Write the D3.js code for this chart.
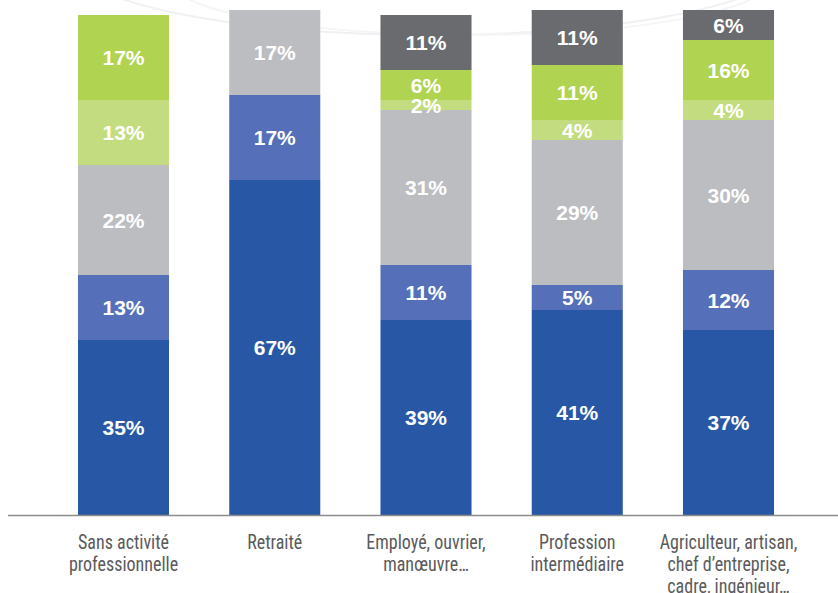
<!DOCTYPE html>
<html>
<head>
<meta charset="utf-8">
<script src="https://cdn.jsdelivr.net/npm/d3@7"></script>
<style>
  html, body { margin: 0; padding: 0; background: #ffffff; }
  svg { display: block; }
</style>
</head>
<body>
<svg id="chart" width="838" height="593"></svg>
<script>
// ---- data ----
const categories = [
  ["Sans activité", "professionnelle"],
  ["Retraité"],
  ["Employé, ouvrier,", "manœuvre…"],
  ["Profession", "intermédiaire"],
  ["Agriculteur, artisan,", "chef d’entreprise,", "cadre, ingénieur…"]
];
const seriesNames = ["s1", "s2", "s3", "s4", "s5", "s6"];
const s1 = [35, 67, 39, 41, 37];   // dark blue
const s2 = [13, 17, 11, 5, 12];    // mid blue
const s3 = [22, 17, 31, 29, 30];   // grey
const s4 = [13, 0, 2, 4, 4];       // light green
const s5 = [17, 0, 6, 11, 12];     // green (bar heights as drawn)
const s5Printed = [17, 0, 6, 11, 16]; // green (percent printed)
const s6 = [0, 0, 11, 11, 6];      // dark grey
const yTicks = [0, 100];

// ---- build table ----
const seriesValues = [s1, s2, s3, s4, s5, s6];
const printed = [s1, s2, s3, s4, s5Printed, s6];
const table = categories.map((c, i) => {
  const row = { key: i };
  seriesNames.forEach((s, j) => row[s] = seriesValues[j][i]);
  return row;
});
const colors = ["#2858a5", "#5570b8", "#bcbdc1", "#c4dc80", "#b1d352", "#6a6b6f"];

const svg = d3.select("#chart");
const W = 838, H = 593;

// faint background swirl
const deco = svg.append("g").attr("fill", "none").attr("stroke", "#f0f1f3").attr("stroke-width", 2);
deco.append("ellipse").attr("cx", 430).attr("cy", -40).attr("rx", 360).attr("ry", 75);
deco.append("ellipse").attr("cx", 470).attr("cy", -20).attr("rx", 300).attr("ry", 55).attr("stroke", "#f4f5f6");

const x = d3.scaleBand()
  .domain(d3.range(categories.length))
  .range([32.6, 819.4])
  .paddingInner(0.398)
  .paddingOuter(0.3);

const y = d3.scaleLinear().domain(yTicks).range([515, 15]);

const stack = d3.stack().keys(seriesNames);
const stacked = stack(table);

const g = svg.append("g");
stacked.forEach((layer, j) => {
  const lg = g.append("g").attr("fill", colors[j]);
  lg.selectAll("rect")
    .data(layer.filter(d => d[1] - d[0] > 0))
    .join("rect")
    .attr("x", d => x(d.data.key))
    .attr("width", x.bandwidth())
    .attr("y", d => y(d[1]))
    .attr("height", d => y(d[0]) - y(d[1]));
});

// value labels
stacked.forEach((layer, j) => {
  g.append("g").selectAll("text")
    .data(layer.filter(d => d[1] - d[0] > 0))
    .join("text")
    .attr("x", d => x(d.data.key) + x.bandwidth() / 2)
    .attr("y", d => (y(d[0]) + y(d[1])) / 2)
    .attr("text-anchor", "middle")
    .attr("dominant-baseline", "central")
    .attr("fill", "#ffffff")
    .attr("font-family", "Liberation Sans, Arial, sans-serif")
    .attr("font-weight", "bold")
    .attr("font-size", 21)
    .text(d => printed[j][d.data.key] + "%");
});

// axis baseline
const axis = d3.axisBottom(x).tickSize(0).tickFormat("");
const ax = svg.append("g").attr("transform", "translate(0,515)").call(axis);
ax.select(".domain").remove();
svg.append("line")
  .attr("x1", 8).attr("x2", W)
  .attr("y1", 515.5).attr("y2", 515.5)
  .attr("stroke", "#8c8c8e").attr("stroke-width", 1.5);

// category labels
const lab = svg.append("g")
  .attr("font-family", "'Liberation Sans Narrow', 'Roboto Condensed', 'DejaVu Sans Condensed', sans-serif")
  .attr("font-size", 20)
  .attr("fill", "#5a5a5c")
  .attr("text-anchor", "middle");
categories.forEach((lines, i) => {
  const cx = x(i) + x.bandwidth() / 2;
  const t = lab.append("g")
    .attr("transform", `translate(${cx},549) scale(0.9,1)`)
    .append("text");
  lines.forEach((ln, k) => {
    t.append("tspan")
      .attr("x", 0)
      .attr("y", k * 22)
      .text(ln);
  });
});
</script>
</body>
</html>
